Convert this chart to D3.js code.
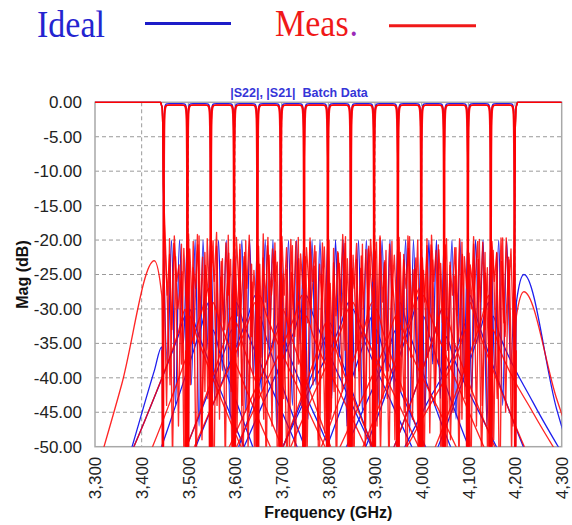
<!DOCTYPE html>
<html>
<head>
<meta charset="utf-8" />
<title>|S22|, |S21| Batch Data</title>
<style>
body { margin: 0; background: #fff; }
svg { display: block; font-family: "Liberation Sans", Arial, sans-serif; }
</style>
</head>
<body>
<div id="graph"></div>
<script src="https://cdnjs.cloudflare.com/ajax/libs/d3/7.8.5/d3.min.js"></script>
<script>
// axis ticks
var freqTicks = [3.3, 3.4, 3.5, 3.6, 3.7, 3.8, 3.9, 4.0, 4.1, 4.2, 4.3];
var magTicks = [0, -5, -10, -15, -20, -25, -30, -35, -40, -45, -50];

// channel boundaries of the 15 channel multiplexer (GHz), read from the notches
var channelEdges = [3.447, 3.498, 3.548, 3.598, 3.648, 3.698, 3.748, 3.799,
                    3.848, 3.898, 3.949, 3.999, 4.048, 4.099, 4.148, 4.199];

// |S21| passband roll-off, offset inward from a channel edge (GHz) -> dB
var passOffsets = [0, 0.0006, 0.0012, 0.002, 0.003, 0.0045, 0.007, 0.012];
var passIdeal   = [-20, -7, -3, -1.3, -0.6, -0.32, -0.22, -0.2];
var passMeas    = [-21, -8, -3.6, -1.7, -0.95, -0.6, -0.44, -0.4];

// |S21| skirt just outside an edge (transmission zero)
var skirtOffsets = [0.0005, 0.0015, 0.0026];
var skirtIdeal   = [-34, -65, -38];
var skirtMeas    = [-30, -60, -36];

// |S21| stopband, offset outward from edge (GHz) -> dB, per channel
var stopOffsets = [0.004, 0.02, 0.09, 0.18];
var idealLo = [[-35.5,-39,-55,-72],[-31,-34,-46,-60],[-29,-32.5,-47,-64],[-33,-36,-48,-62],[-28,-31,-43,-58],
               [-32,-35.5,-50,-66],[-30,-33,-44,-58],[-34,-37,-49,-63],[-29,-32,-42,-55],[-31,-34.5,-48,-63],
               [-33,-36,-47,-60],[-28,-31.5,-45,-60],[-30,-33.5,-47,-62],[-32,-35,-44,-56],[-29,-32.5,-46,-61]];
var idealHi = [[-30,-33,-45,-59],[-33,-36.5,-50,-66],[-29,-32,-43,-57],[-31,-34.5,-48,-63],[-34,-37,-48,-61],
               [-28,-31,-42,-55],[-32,-35.5,-49,-64],[-30,-33,-44,-57],[-33,-36,-47,-60],[-29,-32.5,-46,-61],
               [-31,-34.5,-48,-62],[-34,-37,-47,-59],[-28,-31.5,-45,-60],[-31,-34,-43.5,-54],[-29,-25,-44.5,-62]];
var measLo  = [[-28,-23,-41,-62],[-30,-33.5,-46,-60],[-27,-30.5,-44,-59],[-31,-34.5,-48,-62],[-29,-32,-43,-57],
               [-33,-36,-47,-60],[-28,-31,-42,-55],[-32,-35.5,-49,-64],[-30,-33,-44,-58],[-29,-32.5,-46,-61],
               [-31,-34,-45,-58],[-27,-30.5,-44,-59],[-30,-33.5,-47,-62],[-33,-36,-45,-56],[-28,-31.5,-45,-60]];
var measHi  = [[-31,-34,-46,-60],[-29,-32,-44,-58],[-32,-35.5,-48,-62],[-28,-31,-42,-55],[-30,-33.5,-47,-62],
               [-31,-34,-44,-57],[-33,-36.5,-49,-63],[-29,-32,-42,-55],[-30,-33.5,-47,-62],[-32,-35,-45,-58],
               [-28,-31,-43,-57],[-31,-34.5,-47,-61],[-29,-32.5,-45,-59],[-33,-36,-45,-55],[-31,-27.5,-43,-60]];
// the batch units are slightly detuned from each other (GHz)
var batchShift = [-0.0011, 0, 0.0011];

// |S22| common port: total reflection outside the band
var bandStart = [[3.3, 0], [3.4405, 0], [3.444, -0.8], [3.4455, -4], [3.4465, -12]];
var bandEnd   = [[4.1995, -12], [4.2005, -4], [4.202, -0.8], [4.2055, 0], [4.3, 0]];

// ideal |S22|: equiripple peaks at -20 dB, 3 ripples per channel
var idealPeak = -20;
var idealPeakFrac = [0, 1/3, 2/3];
var idealDipFrac  = [1/6, 1/2, 5/6];
var idealDips = [-38,-44,-35, -41,-47,-36, -43,-39,-46, -37,-45,-40, -42,-36,-48,
                 -39,-44,-35, -46,-41,-38, -43,-37,-47, -40,-45,-36, -44,-39,-42,
                 -37,-48,-41, -45,-38,-43, -36,-46,-40, -42,-35,-47, -39,-44,-38];

// measured |S22|, batch unit A (4 ripples per channel, deep nulls)
var measAPeakFrac = [0, 0.25, 0.5, 0.75];
var measADipFrac  = [0.125, 0.375, 0.625, 0.875];
var measAPeaks = [-21.5,-19.8,-22.4,-20.6, -23.1,-20.2,-19.4,-21.8, -18.6,-20.9,-22.7,-19.3,
                  -18.2,-21.4,-20.1,-23.5, -20.7,-19.1,-22.2,-20.4, -21.9,-24.3,-20.8,-19.6,
                  -22.6,-20.3,-21.7,-25.1, -19.9,-21.2,-23.4,-20.5, -19.2,-22.8,-20.6,-21.3,
                  -23.8,-19.7,-21.5,-20.2, -20.9,-22.1,-19.5,-24.2, -21.4,-19.8,-22.9,-20.7,
                  -19.6,-23.2,-21.1,-20.3, -22.3,-20.6,-19.9,-21.8, -20.4,-21.9,-19.7,-22.5, -20.8];
var measADips  = [-44,-52,-47,-58, -41,-55,-49,-43, -60,-46,-53,-42, -48,-57,-45,-51,
                  -40,-54,-47,-59, -43,-50,-56,-44, -52,-41,-58,-48, -46,-55,-42,-53,
                  -57,-44,-50,-61, -47,-43,-54,-49, -42,-59,-46,-52, -55,-48,-41,-57,
                  -50,-45,-53,-43, -58,-47,-44,-56, -49,-60,-45,-51];

// measured |S22|, batch unit B (3 ripples per channel)
var measBPeakFrac = [0.1, 0.43, 0.77];
var measBDipFrac  = [0.27, 0.6, 0.93];
var measBPeaks = [-22.8,-20.5,-24.6, -21.3,-19.2,-23.7, -20.1,-25.4,-21.9, -19.6,-22.4,-26.1,
                  -23.5,-20.8,-21.6, -24.9,-19.9,-22.7, -21.1,-23.8,-20.4, -26.3,-21.7,-19.5,
                  -22.2,-24.1,-20.9, -20.3,-23.3,-25.7, -21.8,-19.4,-22.6, -24.4,-20.7,-21.4,
                  -19.8,-25.2,-22.1, -23.6,-20.2,-24.8, -21.5,-19.7,-22.9];
var measBDips  = [-41,-30,-52, -35,-48,-29, -44,-33,-56, -31,-50,-38, -46,-28,-40,
                  -54,-34,-43, -30,-49,-37, -42,-31,-55, -36,-47,-29, -51,-39,-33,
                  -45,-30,-53, -37,-44,-32, -49,-35,-41, -28,-52,-38, -43,-34,-47];

// measured |S22|, batch unit C (5 ripples per channel, shallower)
var measCPeakFrac = [0.05, 0.25, 0.45, 0.65, 0.85];
var measCDipFrac  = [0.15, 0.35, 0.55, 0.75, 0.95];
var measCPeaks = [-20.3,-22.1,-19.4,-23.6,-21.2, -19.1,-24.0,-20.7,-22.5,-19.8, -21.6,-18.9,-23.1,-20.4,-22.8,
                  -23.9,-20.6,-21.8,-19.3,-24.4, -20.9,-22.6,-19.6,-21.3,-23.2, -19.5,-21.1,-24.7,-20.2,-22.0,
                  -22.4,-19.7,-20.8,-23.5,-21.0, -20.1,-23.3,-21.9,-19.2,-22.7, -24.1,-20.5,-22.3,-21.4,-19.9,
                  -21.7,-19.4,-23.0,-20.6,-22.2, -19.6,-22.9,-21.2,-24.3,-20.0, -22.6,-20.8,-19.3,-21.5,-23.4,
                  -20.7,-23.7,-21.1,-19.8,-22.4, -21.9,-19.5,-22.8,-20.3,-24.0, -20.2,-21.8,-23.1,-19.7,-21.3];
var measCDips  = [-28,-33,-26,-38,-30, -35,-27,-31,-42,-29, -26,-36,-32,-28,-39, -31,-44,-27,-34,-30,
                  -37,-29,-33,-26,-41, -28,-35,-30,-38,-27, -32,-26,-40,-29,-34, -45,-31,-28,-36,-33,
                  -27,-39,-30,-32,-26, -35,-29,-43,-28,-31, -33,-27,-37,-30,-40, -29,-34,-26,-38,-32,
                  -36,-28,-31,-46,-27, -30,-35,-29,-33,-39, -26,-41,-32,-28,-34];

var width = 572, height = 525;
var plot = { left: 95, top: 102.3, right: 561.7, bottom: 446.7 };
var blue = "#1f1fee", red = "#ff0000";

var svg = d3.select("#graph").append("svg")
    .attr("width", width)
    .attr("height", height);

var x = d3.scaleLinear().domain([3.3, 4.3]).range([plot.left, plot.right]);
var y = d3.scaleLinear().domain([0, -50]).range([plot.top, plot.bottom]);

var fmtY = d3.formatLocale({ decimal: ".", thousands: ",", grouping: [3], currency: ["", ""], minus: "-" }).format(".2f");
var fmtX = d3.formatLocale({ decimal: ",", thousands: ".", grouping: [3], currency: ["", ""], minus: "-" }).format(".3f");

// legend (serif, a little taller than wide)
var legend = svg.append("g").style("font-family", "'Liberation Serif', 'Times New Roman', serif")
    .attr("font-size", 34);
legend.append("text")
    .attr("transform", "translate(37,37) scale(1,1.1)")
    .attr("fill", "#2424d0")
    .text("Ideal");
legend.append("line").attr("x1", 145).attr("x2", 231).attr("y1", 23.5).attr("y2", 23.5)
    .attr("stroke", "#1c1cc8").attr("stroke-width", 3);
var measKey = legend.append("g").attr("transform", "translate(275,36) scale(1,1.1)");
measKey.append("text").attr("fill", "#f01818").text("Meas");
measKey.append("text").attr("x", 74.5).attr("fill", "#9a2ab8").text(".");
legend.append("line").attr("x1", 389).attr("x2", 476).attr("y1", 25.7).attr("y2", 25.7)
    .attr("stroke", "#f01818").attr("stroke-width", 3);

// title
svg.append("text")
    .attr("x", 299).attr("y", 96.5)
    .attr("text-anchor", "middle")
    .attr("font-size", 12.5).attr("font-weight", "bold")
    .attr("fill", "#3535d8")
    .style("white-space", "pre")
    .text("|S22|, |S21|  Batch Data");

// grid
var grid = svg.append("g").attr("stroke", "#9a9a9a").attr("stroke-dasharray", "4,3").attr("stroke-width", 1);
grid.selectAll(".gx").data(freqTicks.slice(1, -1)).enter().append("line")
    .attr("x1", d => x(d)).attr("x2", d => x(d))
    .attr("y1", plot.top).attr("y2", plot.bottom);
grid.selectAll(".gy").data(magTicks.slice(1, -1)).enter().append("line")
    .attr("x1", plot.left).attr("x2", plot.right)
    .attr("y1", d => y(d)).attr("y2", d => y(d));

// frame
svg.append("rect")
    .attr("x", plot.left).attr("y", plot.top)
    .attr("width", plot.right - plot.left).attr("height", plot.bottom - plot.top)
    .attr("fill", "none").attr("stroke", "#a8a8a8").attr("stroke-width", 1.5);

// axes
var yAxis = svg.append("g")
    .attr("transform", "translate(" + plot.left + ",0)")
    .call(d3.axisLeft(y).tickValues(magTicks).tickFormat(fmtY).tickSize(0).tickPadding(13));
yAxis.select(".domain").remove();
yAxis.selectAll("text").attr("font-size", 17).attr("fill", "#222")
    .style("font-family", "'Liberation Sans', Arial, sans-serif");

var xAxis = svg.append("g")
    .attr("transform", "translate(0," + plot.bottom + ")")
    .call(d3.axisBottom(x).tickValues(freqTicks).tickFormat(fmtX).tickSize(0));
xAxis.select(".domain").remove();
xAxis.selectAll("text")
    .attr("font-size", 17).attr("fill", "#222")
    .style("font-family", "'Liberation Sans', Arial, sans-serif")
    .attr("text-anchor", "end")
    .attr("dy", "0.35em")
    .attr("transform", "translate(0,10) rotate(-90)")
    .attr("x", 0).attr("y", 0);

svg.append("text")
    .attr("transform", "translate(28," + ((plot.top + plot.bottom) / 2) + ") rotate(-90)")
    .attr("text-anchor", "middle")
    .attr("font-size", 16).attr("font-weight", "bold").attr("fill", "#111")
    .text("Mag (dB)");
svg.append("text")
    .attr("x", (plot.left + plot.right) / 2).attr("y", 518)
    .attr("text-anchor", "middle")
    .attr("font-size", 16).attr("font-weight", "bold").attr("fill", "#111")
    .text("Frequency (GHz)");

// curves
svg.append("clipPath").attr("id", "clip").append("rect")
    .attr("x", plot.left).attr("y", plot.top - 2)
    .attr("width", plot.right - plot.left).attr("height", plot.bottom - plot.top + 2);

var lines = svg.append("g").attr("clip-path", "url(#clip)")
    .attr("fill", "none").attr("stroke-linejoin", "round");

var smooth = d3.line().x(d => x(d[0])).y(d => y(d[1])).curve(d3.curveMonotoneX);
var jagged = d3.line().x(d => x(d[0])).y(d => y(d[1]));

// one channel's |S21|: stopband, skirt, passband, skirt, stopband
function s21Points(c, pass, skirt, lo, hi, shift, withStop) {
    var a = channelEdges[c] + shift, b = channelEdges[c + 1] + shift;
    var pts = [], i;
    if (withStop) for (i = stopOffsets.length - 1; i >= 0; i--) pts.push([a - stopOffsets[i], lo[c][i]]);
    for (i = skirtOffsets.length - 1; i >= 0; i--) pts.push([a - skirtOffsets[i], skirt[i]]);
    for (i = 0; i < passOffsets.length; i++) pts.push([a + passOffsets[i], pass[i]]);
    for (i = passOffsets.length - 1; i >= 0; i--) pts.push([b - passOffsets[i], pass[i]]);
    for (i = 0; i < skirtOffsets.length; i++) pts.push([b + skirtOffsets[i], skirt[i]]);
    if (withStop) for (i = 0; i < stopOffsets.length; i++) pts.push([b + stopOffsets[i], hi[c][i]]);
    return pts;
}

// common port |S22| across the whole band
function s22Points(peakFrac, peakVal, dipFrac, dips, lastPeak) {
    var inner = [];
    for (var c = 0; c < channelEdges.length - 1; c++) {
        var a = channelEdges[c], w = channelEdges[c + 1] - a;
        peakFrac.forEach(function(f, k) { inner.push([a + f * w, peakVal(c * peakFrac.length + k)]); });
        dipFrac.forEach(function(f, k) { inner.push([a + f * w, dips[c * dipFrac.length + k]]); });
    }
    if (lastPeak !== null) inner.push([channelEdges[channelEdges.length - 1], lastPeak]);
    inner.sort((p, q) => p[0] - q[0]);
    return bandStart.concat(inner, bandEnd);
}

var channels = d3.range(channelEdges.length - 1);

// ideal (blue)
var ideal = lines.append("g").attr("stroke", blue).attr("stroke-width", 1.3);
ideal.selectAll(".s21i").data(channels).enter().append("path")
    .attr("d", c => smooth(s21Points(c, passIdeal, skirtIdeal, idealLo, idealHi, 0, true)));
ideal.append("path")
    .attr("d", smooth(s22Points(idealPeakFrac, () => idealPeak, idealDipFrac, idealDips, idealPeak)));

// measured batch (red)
var measured = lines.append("g").attr("stroke", red).attr("stroke-width", 1.35).attr("stroke-opacity", 0.85);
batchShift.forEach(function(s) {
    measured.append("g").selectAll("path").data(channels).enter().append("path")
        .attr("d", c => smooth(s21Points(c, passMeas, skirtMeas, measLo, measHi, s, s === 0)));
});
measured.append("path")
    .attr("d", jagged(s22Points(measAPeakFrac, i => measAPeaks[i], measADipFrac, measADips, measAPeaks[measAPeaks.length - 1])));
measured.append("path")
    .attr("d", jagged(s22Points(measBPeakFrac, i => measBPeaks[i], measBDipFrac, measBDips, null)));
measured.append("path")
    .attr("d", jagged(s22Points(measCPeakFrac, i => measCPeaks[i], measCDipFrac, measCDips, null)));
</script>
</body>
</html>
